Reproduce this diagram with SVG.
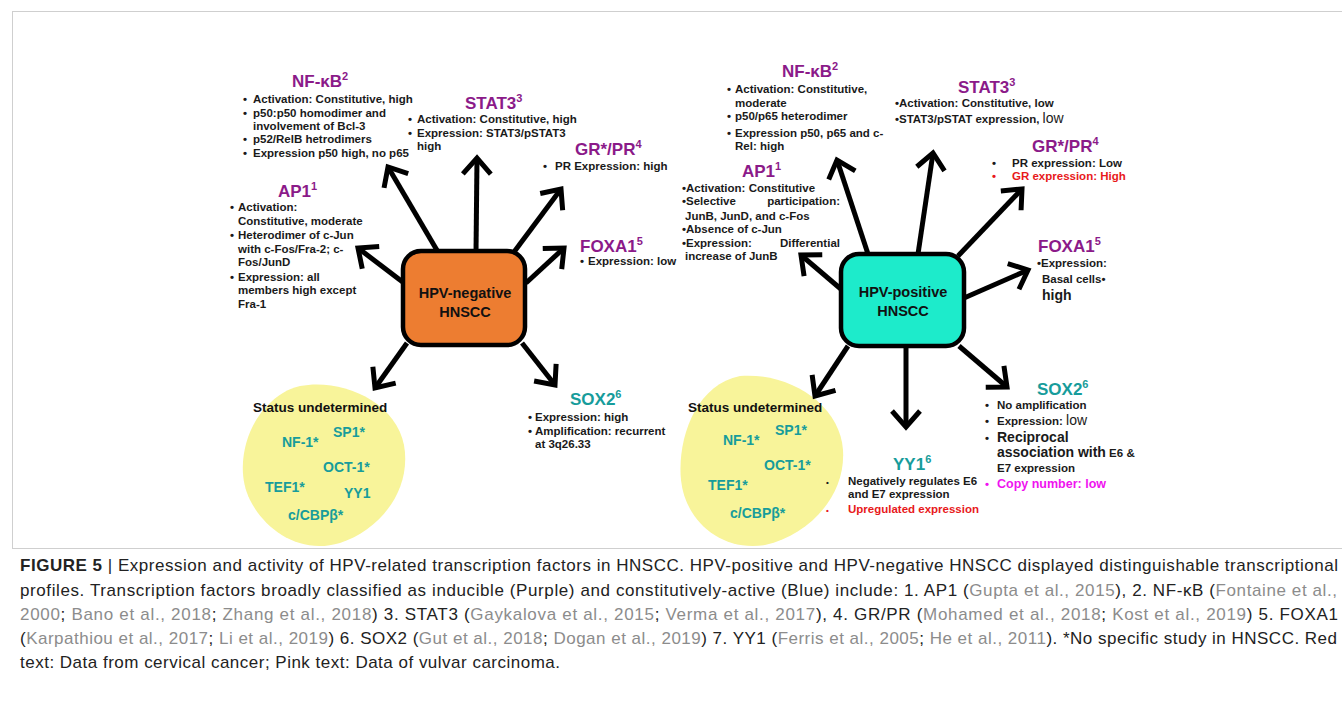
<svg xmlns="http://www.w3.org/2000/svg" width="1342" height="709" viewBox="0 0 1342 709">
<style>
text{font-family:"Liberation Sans",Arial,sans-serif;}
.b{font-size:11.5px;font-weight:bold;fill:#1a1a1a;}
.t{font-size:17px;font-weight:bold;fill:#8B1A89;}
.tt{font-size:17px;font-weight:bold;fill:#179C9B;}
.tf{font-size:14px;font-weight:bold;fill:#179C9B;}
.sup{font-size:11px;}
.su{font-size:13.5px;font-weight:bold;fill:#111;}
.box{font-size:14.5px;font-weight:bold;fill:#111;text-anchor:middle;}
.red{fill:#E8191B;}
.mag{fill:#F012F0;}
.big{font-size:14px;}
.cap{font-size:17px;fill:#222;}
.ref{fill:#8C8C8C;}
.conn line{stroke:#000;stroke-width:5;marker-end:url(#ah);}
.blob{fill:#F8F49A;}
</style>
<defs>
<marker id="ah" viewBox="-24 -18 30 36" refX="0" refY="0" markerWidth="30" markerHeight="36" orient="auto" markerUnits="userSpaceOnUse">
<path d="M-16,-14 L0,0 L-16,14" fill="none" stroke="#000" stroke-width="5" stroke-linejoin="miter"/>
</marker>
</defs>
<rect x="0" y="0" width="1342" height="709" fill="#fff"/>
<rect x="12.5" y="11.5" width="1340" height="537" fill="none" stroke="#cfcfcf" stroke-width="1"/>

<g id="undetermined-left">
<path class="blob" d="M300,386 C340,378 395,400 404,445 C412,490 380,530 340,543 C300,555 265,530 250,500 C235,470 245,430 265,408 C278,394 288,389 300,386 Z"/>
<text class="su" x="253" y="412">Status undetermined</text>
<text class="tf" x="282" y="447">NF-1*</text>
<text class="tf" x="333" y="437">SP1*</text>
<text class="tf" x="323" y="472">OCT-1*</text>
<text class="tf" x="265" y="492">TEF1*</text>
<text class="tf" x="344" y="498">YY1</text>
<text class="tf" x="288" y="520">c/CBPβ*</text>
</g>

<g id="undetermined-right">
<path class="blob" d="M740,376 C790,372 840,405 843,450 C846,495 810,535 765,545 C720,552 685,520 681,480 C677,440 695,385 740,376 Z"/>
<text class="su" x="688" y="412">Status undetermined</text>
<text class="tf" x="723" y="445">NF-1*</text>
<text class="tf" x="775" y="435">SP1*</text>
<text class="tf" x="764" y="470">OCT-1*</text>
<text class="tf" x="708" y="490">TEF1*</text>
<text class="tf" x="730" y="518">c/CBPβ*</text>
</g>

<g class="conn" id="connectors">
<line x1="438" y1="252" x2="388" y2="167"/>
<line x1="476" y1="252" x2="477" y2="158"/>
<line x1="514" y1="252" x2="561" y2="189"/>
<line x1="404" y1="283" x2="358" y2="248"/>
<line x1="526" y1="283" x2="564" y2="248"/>
<line x1="407" y1="343" x2="375" y2="388"/>
<line x1="522" y1="343" x2="555" y2="385"/>
<line x1="868" y1="254" x2="837" y2="160"/>
<line x1="918" y1="254" x2="933" y2="153"/>
<line x1="958" y1="256" x2="1022" y2="189"/>
<line x1="842" y1="290" x2="801" y2="255"/>
<line x1="964" y1="298" x2="1028" y2="270"/>
<line x1="848" y1="346" x2="815" y2="396"/>
<line x1="906" y1="347" x2="906" y2="427"/>
<line x1="959" y1="346" x2="1007" y2="387"/>
</g>

<g id="hpv-negative">
<rect x="403" y="251" width="122" height="94" rx="18" fill="#ED7D31" stroke="#000" stroke-width="4.5"/>
<text class="box" x="465" y="298">HPV-negative</text>
<text class="box" x="465" y="317">HNSCC</text>
</g>

<g id="hpv-positive">
<rect x="841" y="254" width="123" height="92" rx="18" fill="#1DEBCB" stroke="#000" stroke-width="4.5"/>
<text class="box" x="903" y="297">HPV-positive</text>
<text class="box" x="903" y="316">HNSCC</text>
</g>

<g id="nfkb-left">
<text class="t" x="292" y="87">NF-κB<tspan class="sup" dy="-7">2</tspan></text>
<text class="b" y="103"><tspan x="243">•</tspan><tspan x="253">Activation: Constitutive, high</tspan></text>
<text class="b" y="117"><tspan x="243">•</tspan><tspan x="253">p50:p50 homodimer and</tspan></text>
<text class="b" x="253" y="130">involvement  of Bcl-3</text>
<text class="b" y="143"><tspan x="243">•</tspan><tspan x="253">p52/RelB hetrodimers</tspan></text>
<text class="b" y="157"><tspan x="243">•</tspan><tspan x="253">Expression p50 high, no p65</tspan></text>
</g>

<g id="stat3-left">
<text class="t" x="465" y="109">STAT3<tspan class="sup" dy="-7">3</tspan></text>
<text class="b" y="123"><tspan x="408">•</tspan><tspan x="417">Activation: Constitutive, high</tspan></text>
<text class="b" y="137"><tspan x="408">•</tspan><tspan x="417">Expression: STAT3/pSTAT3</tspan></text>
<text class="b" x="417" y="150">high</text>
</g>

<g id="grpr-left">
<text class="t" x="575" y="155">GR*/PR<tspan class="sup" dy="-7">4</tspan></text>
<text class="b" y="170"><tspan x="543">•</tspan><tspan x="555">PR Expression: high</tspan></text>
</g>

<g id="ap1-left">
<text class="t" x="278" y="197">AP1<tspan class="sup" dy="-7">1</tspan></text>
<text class="b" y="211"><tspan x="230">•</tspan><tspan x="238">Activation:</tspan></text>
<text class="b" x="238" y="225">Constitutive, moderate</text>
<text class="b" y="239"><tspan x="230">•</tspan><tspan x="238">Heterodimer of c-Jun</tspan></text>
<text class="b" x="238" y="253">with c-Fos/Fra-2; c-</text>
<text class="b" x="238" y="266">Fos/JunD</text>
<text class="b" y="281"><tspan x="230">•</tspan><tspan x="238">Expression: all</tspan></text>
<text class="b" x="238" y="294">members high except</text>
<text class="b" x="238" y="308">Fra-1</text>
</g>

<g id="foxa1-left">
<text class="t" x="580" y="252">FOXA1<tspan class="sup" dy="-7">5</tspan></text>
<text class="b" y="265"><tspan x="580">•</tspan><tspan x="588">Expression: low</tspan></text>
</g>

<g id="sox2-left">
<text class="tt" x="570" y="405">SOX2<tspan class="sup" dy="-7">6</tspan></text>
<text class="b" y="421"><tspan x="528">•</tspan><tspan x="535">Expression: high</tspan></text>
<text class="b" y="435"><tspan x="528">•</tspan><tspan x="535">Amplification:  recurrent</tspan></text>
<text class="b" x="535" y="448">at 3q26.33</text>
</g>

<g id="nfkb-right">
<text class="t" x="782" y="77">NF-κB<tspan class="sup" dy="-7">2</tspan></text>
<text class="b" y="93"><tspan x="727">•</tspan><tspan x="735">Activation: Constitutive,</tspan></text>
<text class="b" x="735" y="107">moderate</text>
<text class="b" y="120"><tspan x="727">•</tspan><tspan x="735">p50/p65 heterodimer</tspan></text>
<text class="b" y="137"><tspan x="727">•</tspan><tspan x="735">Expression p50, p65 and c-</tspan></text>
<text class="b" x="735" y="150">Rel: high</text>
</g>

<g id="stat3-right">
<text class="t" x="958" y="93">STAT3<tspan class="sup" dy="-7">3</tspan></text>
<text class="b" x="895" y="107">•Activation: Constitutive, low</text>
<text class="b" x="895" y="123">•STAT3/pSTAT expression, <tspan class="big" font-weight="normal">low</tspan></text>
</g>

<g id="grpr-right">
<text class="t" x="1032" y="152">GR*/PR<tspan class="sup" dy="-7">4</tspan></text>
<text class="b" y="167"><tspan x="992">•</tspan><tspan x="1012">PR expression: Low</tspan></text>
<text class="b red" y="180"><tspan x="992">•</tspan><tspan x="1012">GR expression: High</tspan></text>
</g>

<g id="ap1-right">
<text class="t" x="742" y="177">AP1<tspan class="sup" dy="-7">1</tspan></text>
<text class="b" x="682" y="192">•Activation: Constitutive</text>
<text class="b" x="682" y="205">•Selective</text>
<text class="b" x="840" y="205" text-anchor="end">participation:</text>
<text class="b" x="685" y="220">JunB, JunD, and c-Fos</text>
<text class="b" x="682" y="233">•Absence of c-Jun</text>
<text class="b" x="682" y="247">•Expression:</text>
<text class="b" x="840" y="247" text-anchor="end">Differential</text>
<text class="b" x="685" y="260">increase of JunB</text>
</g>

<g id="foxa1-right">
<text class="t" x="1038" y="252">FOXA1<tspan class="sup" dy="-7">5</tspan></text>
<text class="b" x="1037" y="267">•Expression:</text>
<text class="b" x="1042" y="283">Basal cells•</text>
<text class="b big" x="1042" y="300">high</text>
</g>

<g id="sox2-right">
<text class="tt" x="1037" y="395">SOX2<tspan class="sup" dy="-7">6</tspan></text>
<text class="b" y="409"><tspan x="985">•</tspan><tspan x="997">No amplification</tspan></text>
<text class="b" y="425"><tspan x="985">•</tspan><tspan x="997">Expression: <tspan class="big" font-weight="normal">low</tspan></tspan></text>
<text class="b" y="442"><tspan x="985">•</tspan><tspan x="997" class="big">Reciprocal</tspan></text>
<text class="b" x="997" y="457"><tspan class="big">association with</tspan>  E6 &amp;</text>
<text class="b" x="997" y="472">E7 expression</text>
<text class="b mag" y="488"><tspan x="985">•</tspan><tspan x="997" font-size="12.5">Copy number: low</tspan></text>
</g>

<g id="yy1-right">
<text class="tt" x="893" y="470">YY1<tspan class="sup" dy="-7">6</tspan></text>
<text class="b" y="485"><tspan x="826" font-size="8">•</tspan><tspan x="848">Negatively regulates  E6</tspan></text>
<text class="b" x="848" y="498">and E7 expression</text>
<text class="b red" y="513"><tspan x="826" font-size="8">•</tspan><tspan x="848">Upregulated expression</tspan></text>
</g>

<g id="caption">
<text class="cap" x="20" y="571" textLength="1318" lengthAdjust="spacing"><tspan font-weight="bold">FIGURE 5</tspan> | Expression and activity of HPV-related transcription factors in HNSCC. HPV-positive and HPV-negative HNSCC displayed distinguishable transcriptional</text>
<text class="cap" x="20" y="596" textLength="1317" lengthAdjust="spacing">profiles. Transcription factors broadly classified as inducible (Purple) and constitutively-active (Blue) include: 1. AP1 (<tspan class="ref">Gupta et al., 2015</tspan>), 2. NF-κB (<tspan class="ref">Fontaine et al.,</tspan></text>
<text class="cap" x="20" y="620" textLength="1318" lengthAdjust="spacing"><tspan class="ref">2000</tspan>; <tspan class="ref">Bano et al., 2018</tspan>; <tspan class="ref">Zhang et al., 2018</tspan>) 3. STAT3 (<tspan class="ref">Gaykalova et al., 2015</tspan>; <tspan class="ref">Verma et al., 2017</tspan>), 4. GR/PR (<tspan class="ref">Mohamed et al., 2018</tspan>; <tspan class="ref">Kost et al., 2019</tspan>) 5. FOXA1</text>
<text class="cap" x="20" y="644" textLength="1317" lengthAdjust="spacing">(<tspan class="ref">Karpathiou et al., 2017</tspan>; <tspan class="ref">Li et al., 2019</tspan>) 6. SOX2 (<tspan class="ref">Gut et al., 2018</tspan>; <tspan class="ref">Dogan et al., 2019</tspan>) 7. YY1 (<tspan class="ref">Ferris et al., 2005</tspan>; <tspan class="ref">He et al., 2011</tspan>). *No specific study in HNSCC. Red</text>
<text class="cap" x="20" y="668" textLength="540" lengthAdjust="spacing">text: Data from cervical cancer; Pink text: Data of vulvar carcinoma.</text>
</g>
</svg>
